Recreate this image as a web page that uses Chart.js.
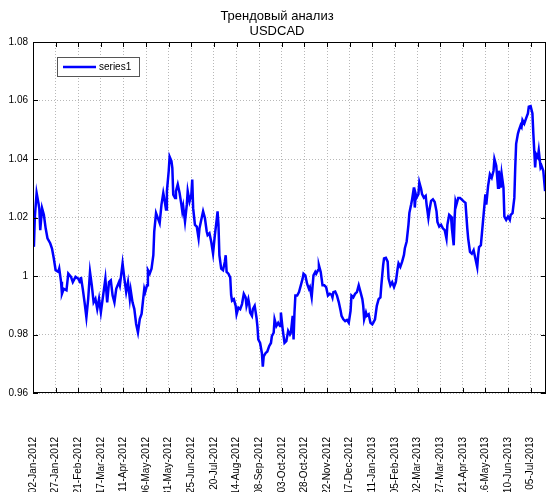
<!DOCTYPE html>
<html>
<head>
<meta charset="utf-8">
<script src="https://cdn.jsdelivr.net/npm/chart.js@4.4.0/dist/chart.umd.min.js"></script>
<style>
  html, body { margin: 0; padding: 0; background: #fff; }
  #wrap { width: 546px; height: 492px; }
</style>
</head>
<body>
<div id="wrap"><canvas id="chart" width="546" height="492"></canvas></div>
<script>
const chartTitle = ["Трендовый анализ", "USDCAD"];
const seriesName = "series1";

// дни от 02-Jan-2012
const days = [
  0, 1, 2, 4, 6, 7, 8, 10, 12, 14, 16, 19, 21, 23, 25, 28, 29, 31, 32, 34,
  37, 39, 42, 44, 47, 50, 52, 53, 55, 57, 59, 61, 63, 65, 67, 69, 71, 73, 75, 78,
  80, 82, 84, 86, 88, 90, 92, 95, 96, 99, 101, 103, 105, 107, 108, 110, 112, 114, 116, 118,
  120, 121, 123, 124, 126, 127, 129, 131, 133, 134, 136, 138, 140, 142, 144, 145, 147, 148, 150, 151,
  153, 154, 155, 157, 158, 160, 162, 164, 165, 166, 168, 170, 171, 173, 175, 176, 177, 179, 181, 183,
  184, 186, 188, 190, 192, 193, 195, 197, 199, 201, 203, 204, 205, 206, 208, 210, 212, 213, 214, 216,
  218, 219, 220, 222, 224, 225, 227, 229, 231, 233, 235, 236, 238, 239, 240, 242, 243, 245, 247, 248,
  249, 251, 253, 254, 255, 257, 259, 261, 263, 264, 266, 267, 269, 271, 273, 274, 276, 277, 278, 280,
  282, 284, 285, 287, 288, 289, 290, 292, 294, 296, 298, 299, 301, 303, 305, 306, 308, 310, 312, 313,
  315, 316, 318, 319, 320, 322, 324, 326, 328, 330, 331, 332, 334, 336, 338, 340, 341, 343, 345, 347,
  349, 351, 352, 354, 356, 358, 360, 362, 364, 365, 366, 368, 369, 371, 373, 375, 376, 378, 380, 382,
  384, 385, 387, 388, 390, 392, 393, 395, 397, 399, 401, 403, 404, 406, 408, 410, 411, 413, 415, 416,
  418, 419, 421, 422, 423, 424, 426, 427, 429, 430, 432, 434, 435, 437, 438, 440, 442, 444, 446, 447,
  449, 451, 453, 455, 457, 458, 460, 462, 463, 465, 466, 467, 468, 470, 472, 474, 476, 478, 480, 481,
  483, 485, 487, 489, 491, 492, 493, 495, 496, 498, 500, 501, 503, 505, 507, 509, 510, 512, 514, 515,
  517, 518, 520, 521, 523, 525, 527, 528, 530, 532, 533, 534, 536, 537, 539, 540, 541, 543, 545, 547,
  548, 550, 551, 552, 553, 555, 556, 558, 559, 561, 562, 564, 565, 566
];

const values = [
  1.012, 1.010, 1.020, 1.0284, 1.025, 1.023, 1.0157, 1.0232, 1.0209, 1.0163, 1.0129, 1.0112, 1.0094, 1.006, 1.002, 1.0014, 1.0025, 0.998, 0.9939, 0.9956,
  0.9951, 1.0008, 0.9997, 0.9979, 0.9997, 0.9991, 0.9979, 0.9997, 0.9956, 0.991, 0.9859, 0.9922, 1.0014, 0.9968, 0.991, 0.9922, 0.9887, 0.9922, 0.9876, 0.9945,
  0.9991, 0.991, 0.9979, 0.9985, 0.9933, 0.991, 0.9956, 0.9979, 0.9968, 1.0043, 0.9991, 0.9945, 0.9979, 0.9922, 0.9951, 0.991, 0.9887, 0.9836, 0.9807, 0.9853,
  0.987, 0.9899, 0.9956, 0.9945, 0.9968, 1.002, 1.0008, 1.0025, 1.0071, 1.0152, 1.0215, 1.0198, 1.0181, 1.0244, 1.0284, 1.0267, 1.0227, 1.029, 1.0359, 1.0408,
  1.0393, 1.037, 1.0278, 1.0267, 1.029, 1.0313, 1.0284, 1.0244, 1.0221, 1.0238, 1.0186, 1.0244, 1.029, 1.0255, 1.0278, 1.033, 1.0232, 1.0175, 1.0169, 1.0129,
  1.0163, 1.0192, 1.0221, 1.0198, 1.0152, 1.014, 1.0146, 1.0117, 1.0077, 1.014, 1.0192, 1.0221, 1.0175, 1.0071, 1.0025, 1.002, 1.0048, 1.0071, 1.0014, 1.0008,
  0.9995, 0.9935, 0.9916, 0.9921, 0.9898, 0.9869, 0.9892, 0.9887, 0.9904, 0.9939, 0.9927, 0.9898, 0.9921, 0.9904, 0.9875, 0.9864, 0.9887, 0.9898, 0.9858, 0.9829,
  0.9783, 0.9771, 0.9736, 0.969, 0.9725, 0.9736, 0.9742, 0.976, 0.9771, 0.9794, 0.9806, 0.9852, 0.9829, 0.984, 0.9829, 0.9875, 0.9817, 0.9794, 0.9771, 0.9777,
  0.9812, 0.98, 0.9806, 0.9864, 0.9783, 0.9875, 0.9933, 0.9933, 0.9945, 0.9968, 0.9991, 1.0008, 1.0002, 0.9973, 0.9956, 0.9962, 0.9927, 1.0002, 1.0014, 1.0008,
  1.002, 1.0037, 1.0014, 0.9991, 0.9968, 0.9968, 0.9962, 0.9933, 0.9939, 0.9936, 0.9927, 0.9945, 0.9947, 0.9933, 0.991, 0.9881, 0.9864, 0.9852, 0.9846, 0.985,
  0.984, 0.9881, 0.9933, 0.9927, 0.9939, 0.9945, 0.9968, 0.9945, 0.9921, 0.9898, 0.9852, 0.9875, 0.9864, 0.9869, 0.984, 0.9835, 0.984, 0.9852, 0.9898, 0.9921,
  0.9927, 0.9968, 1.0037, 1.006, 1.0062, 1.0049, 0.9991, 0.9968, 0.9979, 0.9962, 0.9979, 1.0025, 1.0043, 1.0031, 1.0049, 1.0072, 1.0095, 1.0118, 1.0176, 1.0216,
  1.0245, 1.0262, 1.0303, 1.0234, 1.028, 1.0268, 1.028, 1.032, 1.0297, 1.028, 1.0268, 1.0274, 1.0245, 1.0199, 1.0222, 1.0257, 1.0262, 1.0253, 1.0221, 1.0185,
  1.0169, 1.0175, 1.0163, 1.0157, 1.0128, 1.0175, 1.0209, 1.0203, 1.0163, 1.0105, 1.0198, 1.0255, 1.0244, 1.0267, 1.0267, 1.0261, 1.0255, 1.025, 1.0163, 1.0128,
  1.0082, 1.0076, 1.0088, 1.0059, 1.003, 1.0071, 1.0099, 1.0105, 1.014, 1.0209, 1.0279, 1.0244, 1.0308, 1.0348, 1.0336, 1.036, 1.04, 1.0377, 1.0302, 1.036,
  1.0302, 1.0348, 1.0302, 1.0203, 1.0192, 1.0203, 1.0192, 1.0209, 1.0215, 1.0267, 1.0371, 1.0452, 1.0487, 1.0498, 1.0516, 1.051, 1.0533, 1.0521, 1.0539, 1.0556,
  1.0579, 1.0581, 1.0568, 1.0556, 1.0487, 1.0371, 1.0417, 1.0406, 1.0429, 1.0371, 1.0377, 1.036, 1.0325, 1.029
];

// подписи оси X: шаг 25 дней
const xTickDays = [0, 25, 50, 75, 100, 125, 150, 175, 200, 225, 250, 275, 300, 325, 350, 375, 400, 425, 450, 475, 500, 525, 550];
const xTickLabels = [
  "02-Jan-2012", "27-Jan-2012", "21-Feb-2012", "17-Mar-2012", "11-Apr-2012", "06-May-2012",
  "31-May-2012", "25-Jun-2012", "20-Jul-2012", "14-Aug-2012", "08-Sep-2012", "03-Oct-2012",
  "28-Oct-2012", "22-Nov-2012", "17-Dec-2012", "11-Jan-2013", "05-Feb-2013", "02-Mar-2013",
  "27-Mar-2013", "21-Apr-2013", "16-May-2013", "10-Jun-2013", "05-Jul-2013"
];
const yTicks = [0.96, 0.98, 1, 1.02, 1.04, 1.06, 1.08];
const yTickLabels = ["0.96", "0.98", "1", "1.02", "1.04", "1.06", "1.08"];

const FONT = "'Liberation Sans', Arial, Helvetica, sans-serif";

// рамка, внутренние засечки и легенда в стиле MATLAB
const matlabFrame = {
  id: "matlabFrame",
  afterDraw(chart) {
    const { ctx, chartArea: a, scales } = chart;
    const tick = 5;
    ctx.save();
    ctx.strokeStyle = "#000";
    ctx.lineWidth = 1;
    ctx.beginPath();
    xTickDays.forEach(d => {
      const x = Math.round(scales.x.getPixelForValue(d)) + 0.5;
      ctx.moveTo(x, a.bottom); ctx.lineTo(x, a.bottom - tick);
      ctx.moveTo(x, a.top); ctx.lineTo(x, a.top + tick);
    });
    yTicks.forEach(v => {
      const y = Math.round(scales.y.getPixelForValue(v)) + 0.5;
      ctx.moveTo(a.left, y); ctx.lineTo(a.left + tick, y);
      ctx.moveTo(a.right, y); ctx.lineTo(a.right - tick, y);
    });
    ctx.stroke();
    ctx.strokeRect(a.left + 0.5, a.top + 0.5, a.right - a.left - 1, a.bottom - a.top - 1);

    // легенда
    const lx = a.left + 24, ly = a.top + 15, lw = 83, lh = 20;
    ctx.fillStyle = "#fff";
    ctx.fillRect(lx, ly, lw, lh);
    ctx.strokeStyle = "#555";
    ctx.strokeRect(lx + 0.5, ly + 0.5, lw - 1, lh - 1);
    ctx.strokeStyle = "#0000ff";
    ctx.lineWidth = 2.5;
    ctx.beginPath();
    ctx.moveTo(lx + 6, ly + lh / 2);
    ctx.lineTo(lx + 39, ly + lh / 2);
    ctx.stroke();
    ctx.fillStyle = "#000";
    ctx.font = "10px " + FONT;
    ctx.textAlign = "left";
    ctx.textBaseline = "middle";
    ctx.fillText(chart.data.datasets[0].label, lx + 42, ly + lh / 2);
    ctx.restore();
  }
};

new Chart(document.getElementById("chart"), {
  type: "line",
  data: {
    datasets: [{
      label: seriesName,
      data: days.map((d, i) => ({ x: d, y: values[i] })),
      borderColor: "#0000ff",
      borderWidth: 2.5,
      pointRadius: 0,
      tension: 0,
      fill: false
    }]
  },
  options: {
    responsive: false,
    animation: false,
    devicePixelRatio: 1,
    layout: { padding: { left: 8, right: 0, top: 0, bottom: 0 } },
    plugins: {
      legend: { display: false },
      tooltip: { enabled: false },
      title: {
        display: true,
        text: chartTitle,
        color: "#000",
        font: { family: FONT, size: 13, weight: "normal", lineHeight: 15 / 13 },
        padding: { top: 8.5, bottom: 3.5 }
      }
    },
    scales: {
      x: {
        type: "linear",
        min: 0,
        max: 567,
        afterBuildTicks: s => { s.ticks = xTickDays.map(v => ({ value: v })); },
        afterFit: s => {
          s.height = 99;
          s.paddingLeft = 0;
          s.paddingRight = 0;
        },
        grid: { color: "#b8b8b8", drawTicks: false },
        border: { display: false, dash: [1, 2] },
        ticks: {
          autoSkip: false,
          maxRotation: 90,
          minRotation: 90,
          padding: 44,
          color: "#000",
          font: { family: FONT, size: 10 },
          callback: (v, i) => xTickLabels[i]
        }
      },
      y: {
        type: "linear",
        min: 0.96,
        max: 1.08,
        afterBuildTicks: s => { s.ticks = yTicks.map(v => ({ value: v })); },
        afterFit: s => {
          s.width = 25;
          s.paddingTop = 0;
          s.paddingBottom = 0;
        },
        grid: { color: "#b8b8b8", drawTicks: false },
        border: { display: false, dash: [1, 2] },
        ticks: {
          padding: 5,
          color: "#000",
          font: { family: FONT, size: 10 },
          callback: (v, i) => yTickLabels[i]
        }
      }
    }
  },
  plugins: [matlabFrame]
});
</script>
</body>
</html>
